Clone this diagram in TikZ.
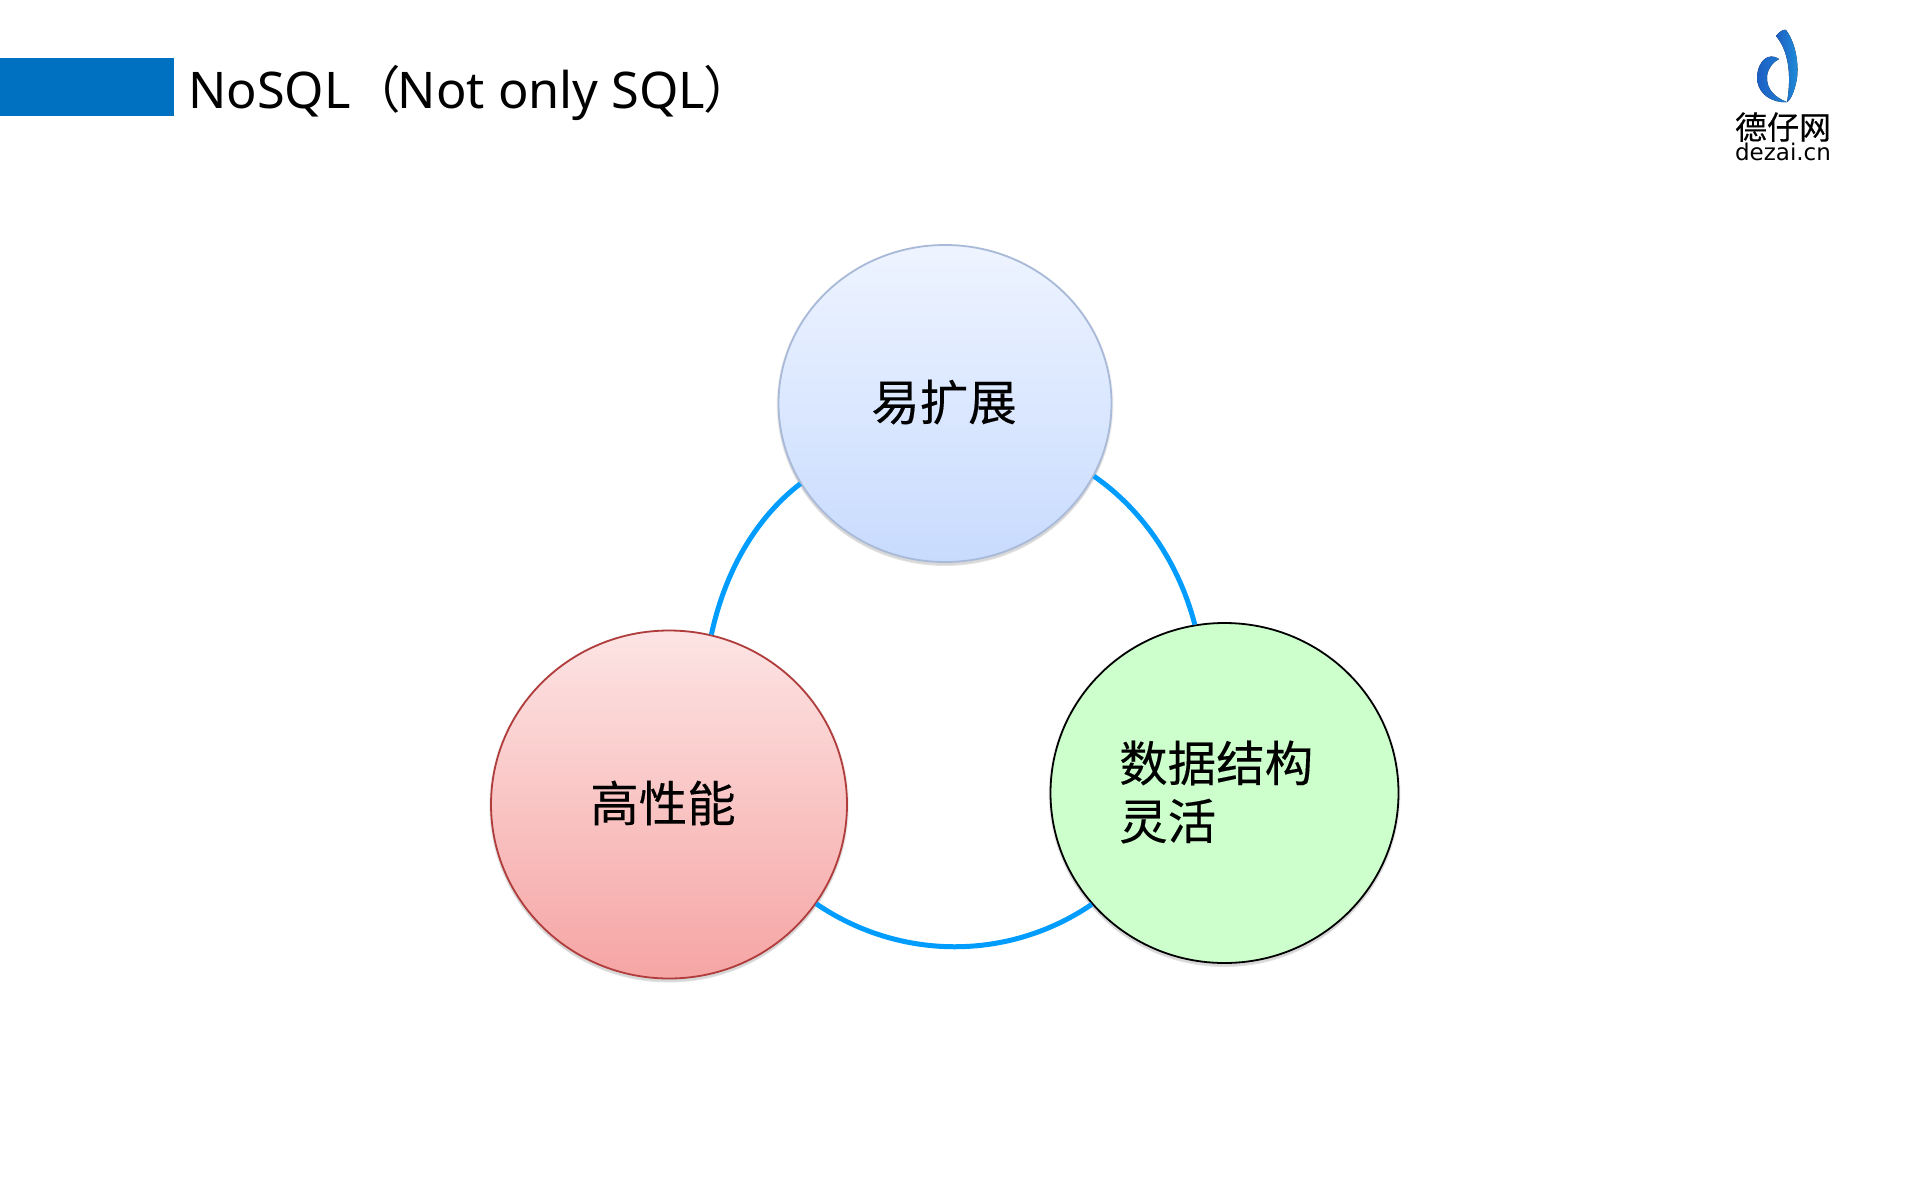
\documentclass[tikz,border=0pt]{standalone}
\usepackage{fontspec}
\setmainfont{Noto Sans}
\newfontfamily\cjk{Noto Sans CJK SC}
\newfontfamily\cjkb[FakeBold=0.25]{Noto Sans CJK SC}
\newfontfamily\dejavu{DejaVu Sans}
\usetikzlibrary{shapes.geometric,shadows}
\definecolor{barblue}{HTML}{0070C0}
\definecolor{ringblue}{HTML}{009DFF}
\definecolor{bluetop}{HTML}{EEF4FF}
\definecolor{bluebot}{HTML}{C8DBFE}
\definecolor{blueline}{HTML}{A9BAD8}
\definecolor{redtop}{HTML}{FDE4E4}
\definecolor{redbot}{HTML}{F5A5A4}
\definecolor{redline}{HTML}{B03C3C}
\definecolor{greenfill}{HTML}{CCFFCC}
\definecolor{logoA}{HTML}{1F8FD8}
\definecolor{logoB}{HTML}{1D5FC4}
\tikzset{
  softshadow/.style={
    general shadow={fill=black,fill opacity=.05,shadow yshift=-1pt,shadow scale=1.012},
    general shadow={fill=black,fill opacity=.05,shadow yshift=-3pt,shadow scale=1.006},
    general shadow={fill=black,fill opacity=.06,shadow yshift=-4pt,shadow scale=1.0}},
  bubble/.style={ellipse,inner sep=0pt,line width=1.8pt,softshadow,align=left,text=black},
  bubbletext/.style={font=\cjkb\fontsize{48.5}{58}\selectfont,text=black,inner sep=0pt},
  ringline/.style={draw=ringblue,line width=5pt},
  logotext/.style={text=black,inner sep=0pt}
}
\begin{document}
\begin{tikzpicture}[x=1pt,y=-1pt]
\useasboundingbox (0,0) rectangle (1920,1200);
\fill[white] (0,0) rectangle (1920,1200);
\node[fill=barblue,minimum width=174pt,minimum height=58pt,inner sep=0pt,anchor=north west] (bar) at (0,58) {};
\node[anchor=base west,inner sep=0pt,font=\fontsize{50.5}{60}\selectfont] (title) at (188,108) {NoSQL{\cjk（}\kern-3.5pt Not only SQL\kern-1.5pt{\cjk）}};
\node[bubble,draw=blueline,top color=bluetop,bottom color=bluebot,minimum width=333pt,minimum height=317pt] (scale) at (945,403.5) {};
\node[bubbletext] (scalelabel) at (944,402) {易扩展};
\node[bubble,draw=redline,top color=redtop,bottom color=redbot,minimum width=356pt,minimum height=348pt] (perf) at (669,804.5) {};
\node[bubbletext] (perflabel) at (663,803) {高性能};
\node[bubble,draw=black,fill=greenfill,minimum width=348pt,minimum height=340pt] (data) at (1224.5,793) {};
\node[bubbletext,anchor=west,align=left] (datalabel) at (1119,792) {数据结构\\灵活};
\draw[ringline] (scale.209.7) .. controls +(-47.4,36.7) and +(12.9,-59.6) .. (perf.76.8);
\draw[ringline] (scale.-26.6) .. controls +(49.9,34.7) and +(-15.5,-59.9) .. (data.100.2);
\draw[ringline] (perf.-34.5) .. controls +(83.6,56.9) and +(-83.6,56.9) .. (data.220.1);
% logo
\fill[left color=logoB,right color=logoA] (1776,36) .. controls (1779,32) and (1783,29) .. (1786,30)
  .. controls (1795,42) and (1799,62) .. (1797,78)
  .. controls (1795,90) and (1791,100) .. (1787,102)
  .. controls (1790,85) and (1792,55) .. (1776,36) -- cycle;
\fill[left color=logoB,right color=logoA!70!logoB] (1779,59) .. controls (1769,52) and (1758,60) .. (1757,77)
  .. controls (1757,90) and (1766,100) .. (1781,102) -- (1787,102)
  .. controls (1776,98) and (1766,90) .. (1767,76) .. controls (1768,68) and (1773,62) .. (1779,59) -- cycle;
\node[logotext,font=\cjkb\fontsize{32}{32}\selectfont] (logocn) at (1783,127) {德仔网};
\node[logotext,font=\dejavu\fontsize{23}{23}\selectfont] (logoen) at (1783,152) {dezai.cn};
\end{tikzpicture}
\end{document}
